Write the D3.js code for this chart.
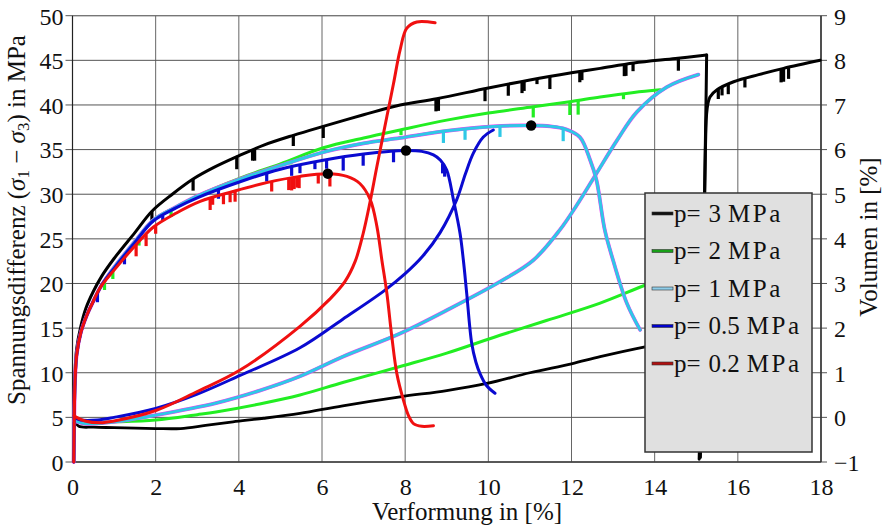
<!DOCTYPE html>
<html><head><meta charset="utf-8">
<script src="https://cdnjs.cloudflare.com/ajax/libs/d3/7.8.5/d3.min.js"></script>
<style>body{margin:0;background:#fff}svg{display:block}</style>
</head><body><svg id="c" width="891" height="529"></svg>
<script>
// ---------- data ----------
const xTicks = [0,2,4,6,8,10,12,14,16,18];
const yTicks = [0,5,10,15,20,25,30,35,40,45,50];
const volTicks = [-1,0,1,2,3,4,5,6,7,8,9];
const legendLabels = ["p= 3 MPa","p= 2 MPa","p= 1 MPa","p= 0.5 MPa","p= 0.2 MPa"];

// stress difference (MPa) vs strain (%)
const stress3 = [[0.03,0],[0.04,5],[0.06,10],[0.1,12.7],[0.2,15.2],[0.32,17.2],[0.5,19.1],[0.7,20.8],[1.0,22.8],[1.5,25.7],[1.91,28.1],[2.4,30.0],[2.9,31.7],[3.4,33.0],[3.95,34.2],[4.6,35.5],[5.31,36.6],[6.03,37.6],[7.0,38.9],[7.88,40.0],[8.76,40.7],[10.0,41.9],[11.0,42.8],[12.0,43.6],[12.69,44.1],[13.5,44.7],[14.5,45.2],[15.25,45.6]];
const stress3drop = [[15.25,45.6],[15.24,42],[15.2,30],[15.15,15],[15.07,0.3]];
const stress3b = [[15.1,0.5],[15.17,20],[15.22,35],[15.26,39.5],[15.33,40.9],[15.5,41.7],[15.9,42.6],[16.5,43.4],[17.1,44.1],[17.98,45.0]];
const stress2 = [[0.03,0],[0.04,4],[0.06,9],[0.1,12],[0.2,14.5],[0.35,16.5],[0.5,18],[0.7,19.8],[1.0,21.8],[1.5,24.7],[1.94,27.1],[2.5,28.6],[3.0,29.8],[4.03,31.8],[5.0,33.4],[6.03,35.2],[7.0,36.3],[7.88,37.2],[9.0,38.3],[10.0,39.1],[11.08,39.8],[12.0,40.4],[12.69,40.9],[13.5,41.4],[14.13,41.7]];
const stress1 = [[0.03,0],[0.04,4],[0.06,9],[0.1,12],[0.2,14.5],[0.35,16.5],[0.5,18],[0.7,19.8],[1.0,21.8],[1.5,24.7],[1.94,27.1],[2.5,28.6],[3.0,29.8],[4.03,31.7],[5.0,33.2],[6.03,34.7],[7.0,35.7],[7.88,36.3],[9.0,37.1],[10.12,37.6],[11.03,37.7],[11.5,37.6],[11.85,37.3],[12.2,36.4],[12.45,33.8],[12.6,31.6],[12.8,26.0],[13.0,22.6],[13.33,17.8],[13.65,14.8]];
const stress05 = [[0.03,0],[0.04,4],[0.06,9],[0.1,12],[0.2,14.5],[0.35,16.5],[0.5,18],[0.7,19.8],[1.0,21.7],[1.5,24.6],[1.94,27.0],[2.5,28.5],[3.0,29.6],[4.03,31.4],[5.0,32.8],[6.03,33.8],[7.0,34.5],[8.02,34.9],[8.4,34.8],[8.68,34.4],[8.85,33.8],[9.0,32.7],[9.16,29.4],[9.32,25.6],[9.4,22.6],[9.48,18.9],[9.6,13.3],[9.7,11.2],[9.8,9.9],[9.95,8.6],[10.16,7.7]];
const stress02 = [[0.03,0],[0.04,4],[0.06,9],[0.1,12],[0.2,14.5],[0.35,16.5],[0.5,18],[0.66,19.5],[1.0,21.5],[1.5,24.2],[1.94,26.3],[2.5,27.9],[3.07,29.2],[3.86,30.3],[4.67,31.3],[5.47,32.0],[6.14,32.3],[6.6,32.0],[6.91,31.2],[7.16,29.4],[7.32,26.4],[7.44,22.6],[7.56,18.9],[7.68,14],[7.8,9.9],[7.96,6.9],[8.08,5.2],[8.2,4.3],[8.4,4.0],[8.68,4.07]];

// volume change (%) vs strain (%)
const vol3 = [[0.04,-0.08],[0.15,-0.2],[0.5,-0.22],[1.0,-0.23],[2.0,-0.25],[2.6,-0.25],[3.2,-0.18],[3.86,-0.1],[4.6,-0.02],[5.47,0.09],[6.5,0.26],[7.88,0.46],[9.0,0.6],[9.96,0.76],[11.0,1.0],[12.0,1.2],[12.69,1.36],[13.77,1.58],[14.5,1.7]];
const vol2 = [[0.04,-0.08],[0.3,-0.11],[1.0,-0.1],[2.0,-0.06],[3.0,0.06],[3.45,0.12],[4.5,0.3],[5.47,0.5],[6.5,0.78],[7.88,1.14],[9.0,1.44],[10.28,1.84],[11.5,2.2],[12.69,2.56],[13.77,2.96],[14.5,3.2]];
const vol1 = [[0.04,-0.08],[0.3,-0.14],[1.0,-0.1],[2.0,0.05],[3.45,0.32],[4.5,0.6],[5.47,0.92],[6.5,1.36],[7.88,1.88],[9.0,2.4],[10.28,3.04],[11.08,3.52],[11.72,4.2],[12.13,4.76],[12.57,5.42],[13.09,6.2],[13.57,6.84],[14.29,7.4],[15.05,7.68]];
const vol05 = [[0.04,0],[0.2,-0.06],[0.6,-0.06],[1.0,0],[2.0,0.2],[3.0,0.52],[4.03,0.94],[5.47,1.56],[6.5,2.2],[7.5,2.84],[8.0,3.22],[8.43,3.62],[8.84,4.14],[9.24,4.88],[9.45,5.46],[9.64,5.92],[9.88,6.28],[10.12,6.44]];
const vol02 = [[0.04,0.04],[0.1,0],[0.3,-0.08],[0.66,-0.12],[1.0,-0.08],[2.02,0.16],[3.0,0.58],[4.03,1.06],[5.47,2.04],[6.2,2.66],[6.55,3.04],[6.8,3.5],[6.99,4.12],[7.15,4.8],[7.32,5.62],[7.56,6.74],[7.72,7.48],[7.88,8.24],[8.04,8.72],[8.28,8.86],[8.72,8.84]];

// unloading dips on the stress curves: [strain, depth in MPa]
const dips3 = [[1.91,1.3],[2.9,1.3],[3.95,1.4],[4.33,1.2],[4.38,1.3],[5.31,1.2],[6.03,1.3],[8.74,1.4],[8.8,1.4],[9.92,1.4],[10.48,1.3],[10.81,1.3],[10.86,1.1],[11.17,0.6],[11.48,1.4],[12.2,1.2],[12.25,1.0],[13.27,1.3],[13.31,1.3],[13.48,0.9],[14.57,1.4]];
const dips3b = [[15.53,1.1],[15.62,0.9],[15.77,1.1],[16.17,1.0],[17.04,1.5],[17.1,1.5],[17.22,1.3]];
const dips2 = [[0.77,1.0],[0.97,1.1],[1.6,1.0],[2.37,0.8],[5.25,0.5],[7.9,0.6],[11.08,1.2],[11.96,1.5],[12.16,1.6],[13.25,0.6]];
const dips1 = [[8.92,1.3],[9.44,1.2],[10.28,1.2],[11.8,1.4]];
const dips05 = [[0.6,1.0],[1.25,1.0],[2.17,0.6],[3.51,1.0],[4.67,0.9],[5.27,1.0],[5.47,0.9],[5.83,0.8],[6.11,1.0],[6.51,1.5],[6.99,1.3],[7.72,1.2],[8.9,1.1],[8.95,1.1]];
const dips02 = [[1.53,1.3],[1.77,1.3],[2.0,0.9],[3.31,1.3],[3.37,0.8],[3.63,1.1],[3.79,1.1],[3.91,1.2],[4.79,1.1],[5.2,1.3],[5.27,1.4],[5.33,1.3],[5.4,1.2],[5.45,1.3],[5.91,1.0],[6.19,1.4]];

// peak markers [strain, stress]
const peaks = [[6.14,32.3],[8.02,34.9],[11.03,37.7]];

// ---------- drawing ----------
const FONT = "'Liberation Serif', 'Times New Roman', serif";
const svg = d3.select("#c");
const L=72.5, R=821, T=15.7, B=462;
const x = d3.scaleLinear().domain([0,18]).range([L,R]);
const y = d3.scaleLinear().domain([0,50]).range([B,T]);
const yv = d3.scaleLinear().domain([-1,9]).range([B,T]);

const grid = svg.append("g");
xTicks.forEach(t=>grid.append("line").attr("x1",x(t)).attr("x2",x(t)).attr("y1",T).attr("y2",B).attr("stroke","#666").attr("stroke-width",1));
yTicks.forEach(t=>grid.append("line").attr("x1",L-7).attr("x2",R+6).attr("y1",y(t)).attr("y2",y(t)).attr("stroke","#555").attr("stroke-width",1));
svg.append("rect").attr("x",L).attr("y",T).attr("width",R-L).attr("height",B-T).attr("fill","none").attr("stroke","#777").attr("stroke-width",1);
svg.append("line").attr("x1",L).attr("x2",L).attr("y1",T).attr("y2",B).attr("stroke","#222").attr("stroke-width",1.2);
svg.append("line").attr("x1",R).attr("x2",R).attr("y1",T).attr("y2",B).attr("stroke","#222").attr("stroke-width",1.2);
svg.append("line").attr("x1",L).attr("x2",R).attr("y1",B).attr("y2",B).attr("stroke","#222").attr("stroke-width",1.2);

const fs = 24;
const gx = svg.append("g").attr("transform",`translate(0,${B})`).call(d3.axisBottom(x).tickValues(xTicks).tickSize(0).tickPadding(16).tickFormat(d3.format("d")));
const gy = svg.append("g").attr("transform",`translate(${L},0)`).call(d3.axisLeft(y).tickValues(yTicks).tickSize(0).tickPadding(9).tickFormat(d3.format("d")));
const gr = svg.append("g").attr("transform",`translate(${R},0)`).call(d3.axisRight(yv).tickValues(volTicks).tickSize(0).tickPadding(13).tickFormat(d=>d<0?"\u2212"+Math.abs(d):d));
[gx,gy,gr].forEach(g=>{g.attr("font-family",null).attr("font-size",null);g.select(".domain").remove();g.selectAll("text").style("font-size",fs+"px").style("font-family",FONT).attr("fill","#111");});
gy.selectAll("text").attr("dy","0.35em");
gr.selectAll("text").attr("dy","0.35em");

const sm = d3.curveCatmullRom.alpha(0.5);
const line = d3.line().curve(sm).x(d=>x(d[0])).y(d=>y(d[1]));
const lineLin = d3.line().x(d=>x(d[0])).y(d=>y(d[1]));
const lineV = d3.line().curve(sm).x(d=>x(d[0])).y(d=>yv(d[1]));

function interp(s, xv){
  for(let i=0;i<s.length-1;i++){
    const a=s[i], b=s[i+1];
    if(xv>=a[0] && xv<=b[0]){ const t=(xv-a[0])/((b[0]-a[0])||1); return a[1]+t*(b[1]-a[1]); }
  }
  return s[s.length-1][1];
}
function drawDips(s, dips, col){
  dips.forEach(d=>{const yt=interp(s,d[0]);
    svg.append("line").attr("x1",x(d[0])).attr("x2",x(d[0])).attr("y1",y(yt)).attr("y2",y(yt-d[1])).attr("stroke",col).attr("stroke-width",3.2);});
}
function path(data, gen, col, w){ svg.append("path").datum(data).attr("d",gen).attr("fill","none").attr("stroke",col).attr("stroke-width",w).attr("stroke-linejoin","round").attr("stroke-linecap","round"); }

const cBlack="#000", cGreen="#22ee22", cCyan="#2ec8e6", cBlue="#0a0ad0", cRed="#f01010", cMag="#f040f0";

path(vol3,lineV,cBlack,2.8);
path(stress3,line,cBlack,3);
path(stress3drop,lineLin,cBlack,3);
path(stress3b,line,cBlack,3);
drawDips(stress3,dips3,cBlack);
drawDips(stress3b,dips3b,cBlack);
path(vol2,lineV,cGreen,3);
path(stress2,line,cGreen,3);
drawDips(stress2,dips2,cGreen);
path(vol1,lineV,cMag,3.8); path(vol1,lineV,cCyan,3);
path(stress1,line,cMag,3.8); path(stress1,line,cCyan,3);
drawDips(stress1,dips1,cCyan);
path(vol05,lineV,cBlue,3);
path(stress05,line,cBlue,3);
drawDips(stress05,dips05,cBlue);
path(vol02,lineV,cRed,3);
path(stress02,line,cRed,3);
drawDips(stress02,dips02,cRed);

svg.selectAll("circle.pk").data(peaks).enter().append("circle").attr("cx",d=>x(d[0])).attr("cy",d=>y(d[1])).attr("r",5.2).attr("fill","#000");

// legend
const lg = svg.append("g");
lg.append("rect").attr("x",645).attr("y",193).attr("width",167).attr("height",259).attr("fill","#e0e0e0").attr("stroke","#333").attr("stroke-width",1.5);
const swCols = ["#111","#18a018","#8ecdea","#0000cc","#b01010"];
legendLabels.forEach((lab,i)=>{
  const cy = 213.5 + i*37.5;
  lg.append("rect").attr("x",652).attr("y",cy-1.5).attr("width",21).attr("height",3).attr("fill",swCols[i]).attr("stroke","#333").attr("stroke-width",0.6);
  const parts = lab.split(" ");
  const t = lg.append("text").attr("x",674).attr("y",cy+8).style("font-size","25px").style("font-family",FONT).attr("fill","#111");
  t.append("tspan").text(parts[0]);
  t.append("tspan").attr("dx",8).text(parts[1]);
  t.append("tspan").attr("dx",7).attr("letter-spacing","2.5px").text(parts[2]);
});

// axis titles
svg.append("text").attr("x",467).attr("y",520).attr("text-anchor","middle").style("font-size","25px").style("font-family",FONT).attr("fill","#111").text("Verformung in [%]");
const yt = svg.append("text").attr("transform","translate(25,220) rotate(-90)").attr("text-anchor","middle").style("font-size","25px").style("font-family",FONT).attr("fill","#111");
yt.append("tspan").text("Spannungsdifferenz (");
yt.append("tspan").attr("font-style","italic").text("σ");
yt.append("tspan").attr("baseline-shift","-25%").style("font-size","17px").text("1");
yt.append("tspan").text(" − ");
yt.append("tspan").attr("font-style","italic").text("σ");
yt.append("tspan").attr("baseline-shift","-25%").style("font-size","17px").text("3");
yt.append("tspan").text(") in MPa");
svg.append("text").attr("transform","translate(877,237) rotate(-90)").attr("text-anchor","middle").style("font-size","25px").style("font-family",FONT).attr("fill","#111").text("Volumen in [%]");
</script></body></html>
